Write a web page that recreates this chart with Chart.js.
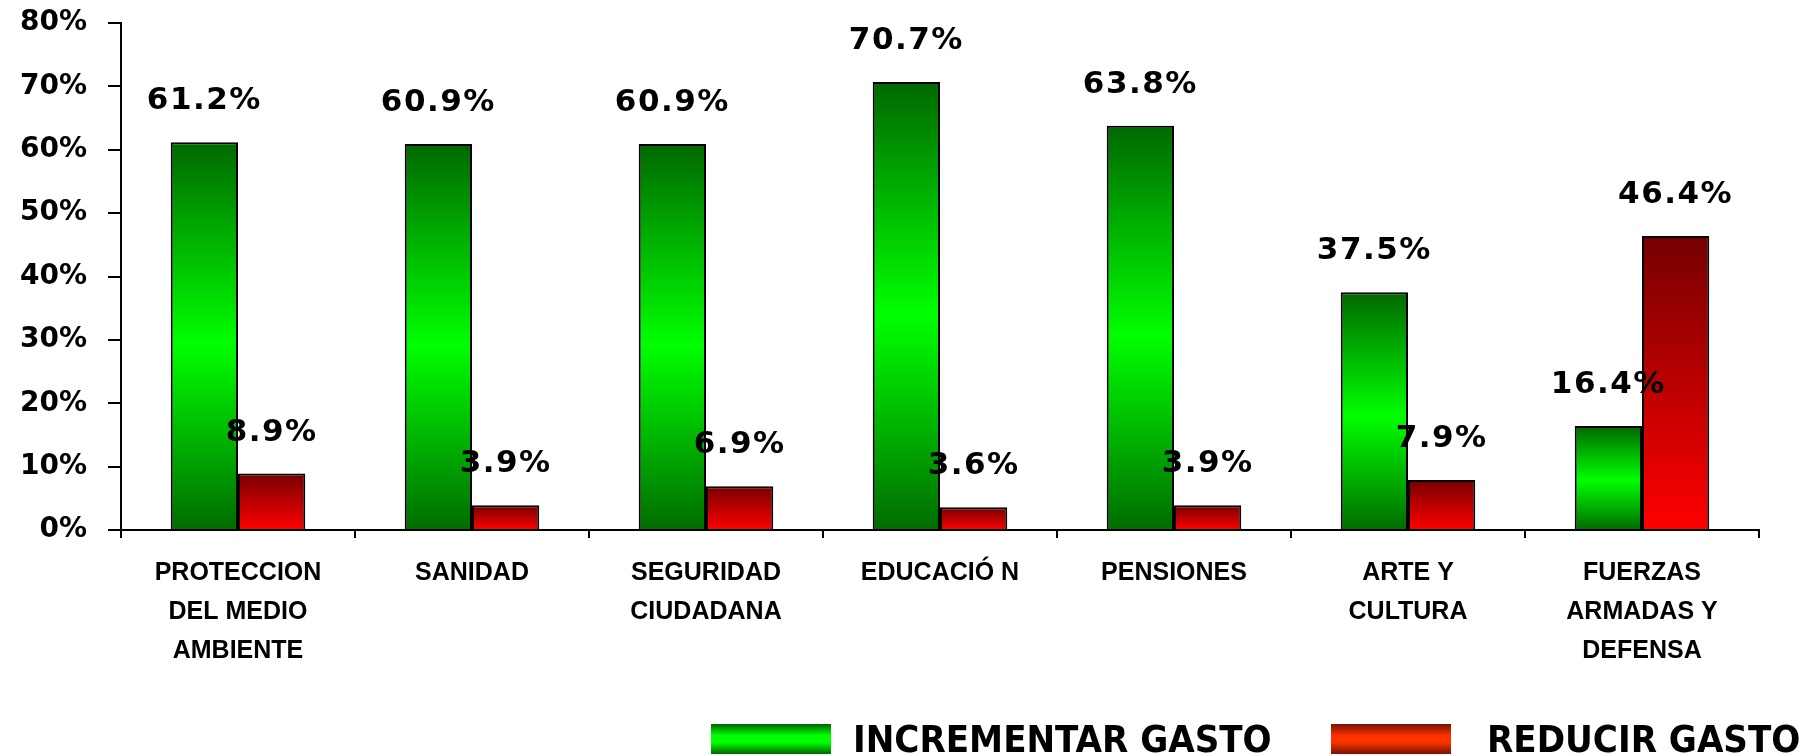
<!DOCTYPE html>
<html>
<head>
<meta charset="utf-8">
<style>
html,body{margin:0;padding:0;background:#ffffff;}
canvas{display:block;}
</style>
<script src="https://cdn.jsdelivr.net/npm/chart.js@4.4.0/dist/chart.umd.min.js"></script>
</head>
<body>
<canvas id="c" width="1819" height="756"></canvas>
<script>
// ---- data ----
const categories = [
  ["PROTECCION", "DEL MEDIO", "AMBIENTE"],
  "SANIDAD",
  ["SEGURIDAD", "CIUDADANA"],
  "EDUCACIÓ N",
  "PENSIONES",
  ["ARTE Y", "CULTURA"],
  ["FUERZAS", "ARMADAS Y", "DEFENSA"]
];
const incrementarGasto = [61.2, 60.9, 60.9, 70.7, 63.8, 37.5, 16.4];
const reducirGasto = [8.9, 3.9, 6.9, 3.6, 3.9, 7.9, 46.4];
const seriesNames = ["INCREMENTAR GASTO", "REDUCIR GASTO"];
const yTickValues = [0, 10, 20, 30, 40, 50, 60, 70, 80];

// ---- styles ----
const greenBarStops = [[0, '#006800'], [0.52, '#00ff00'], [1, '#006c00']];
const redBarStops = [[0, '#760000'], [1, '#ff0000']];
const greenLegendStops = [[0, '#006400'], [0.38, '#00ff00'], [0.62, '#00ff00'], [1, '#006400']];
const redLegendStops = [[0, '#761400'], [0.4, '#ff3300'], [0.6, '#ff3300'], [1, '#761400']];

function barGradient(stops, fallback) {
  return function (ctx) {
    const chart = ctx.chart;
    const ys = chart.scales && chart.scales.y;
    if (ctx.type !== 'data' || !ys || !chart.chartArea) return fallback;
    const top = ys.getPixelForValue(ctx.raw);
    const bot = ys.getPixelForValue(0);
    if (!isFinite(top) || !isFinite(bot) || top === bot) return fallback;
    const g = chart.ctx.createLinearGradient(0, top, 0, bot);
    stops.forEach(([o, c]) => g.addColorStop(o, c));
    return g;
  };
}

const dataLabels = {
  id: 'dataLabels',
  afterDatasetsDraw(chart) {
    const ctx = chart.ctx;
    ctx.save();
    ctx.font = 'bold 31px "DejaVu Sans", Verdana, sans-serif';
    if ('letterSpacing' in ctx) ctx.letterSpacing = '1.5px';
    ctx.fillStyle = '#000';
    ctx.textAlign = 'center';
    ctx.textBaseline = 'alphabetic';
    chart.data.datasets.forEach((ds, di) => {
      const meta = chart.getDatasetMeta(di);
      meta.data.forEach((el, i) => {
        ctx.fillText(ds.data[i].toFixed(1) + '%', el.x, el.y - 33);
      });
    });
    ctx.restore();
  }
};

const legendLayout = [
  { box: 711, text: 853, stops: greenLegendStops },
  { box: 1331, text: 1487, stops: redLegendStops }
];
const customLegend = {
  id: 'customLegend',
  afterDraw(chart) {
    const ctx = chart.ctx;
    ctx.save();
    chart.data.datasets.forEach((ds, i) => {
      const L = legendLayout[i];
      const y0 = 724, h = 30, w = 120;
      const g = ctx.createLinearGradient(0, y0, 0, y0 + h);
      L.stops.forEach(([o, c]) => g.addColorStop(o, c));
      ctx.fillStyle = g;
      ctx.fillRect(L.box, y0, w, h);
      ctx.fillStyle = '#000';
      ctx.font = 'bold 38px "DejaVu Sans Condensed", "Liberation Sans Narrow", sans-serif';
      ctx.textAlign = 'left';
      ctx.textBaseline = 'alphabetic';
      ctx.fillText(ds.label, L.text, 752);
    });
    ctx.restore();
  }
};

new Chart(document.getElementById('c'), {
  type: 'bar',
  data: {
    labels: categories,
    datasets: [
      {
        label: seriesNames[0],
        data: incrementarGasto,
        backgroundColor: barGradient(greenBarStops, '#00c000'),
        borderColor: '#000',
        borderWidth: 2,
        categoryPercentage: 0.575,
        barPercentage: 1.0
      },
      {
        label: seriesNames[1],
        data: reducirGasto,
        backgroundColor: barGradient(redBarStops, '#c00000'),
        borderColor: '#000',
        borderWidth: 2,
        categoryPercentage: 0.575,
        barPercentage: 1.0
      }
    ]
  },
  options: {
    responsive: false,
    animation: false,
    layout: { padding: { left: 0, right: 60, top: 23, bottom: 0 } },
    plugins: {
      legend: { display: false },
      tooltip: { enabled: false }
    },
    scales: {
      x: {
        afterFit: s => { s.height = 226; },
        grid: {
          display: true,
          drawOnChartArea: false,
          drawTicks: true,
          tickLength: 8,
          color: '#000',
          lineWidth: 2,
          offset: true
        },
        border: { display: true, color: '#000', width: 2 },
        ticks: {
          color: '#000',
          padding: 16,
          maxRotation: 0,
          autoSkip: false,
          font: { family: '"Liberation Sans", Arial, sans-serif', weight: 'bold', size: 25, lineHeight: 1.56 }
        }
      },
      y: {
        min: 0,
        max: 80,
        afterFit: s => { s.width = 121; s.paddingTop = 0; s.paddingBottom = 0; },
        afterBuildTicks: s => { s.ticks = yTickValues.map(v => ({ value: v })); },
        grid: {
          display: true,
          drawOnChartArea: false,
          drawTicks: true,
          tickLength: 13,
          color: '#000',
          lineWidth: 2
        },
        border: { display: true, color: '#000', width: 2 },
        ticks: {
          color: '#000',
          padding: 21,
          callback: v => v + '%',
          font: { family: '"DejaVu Sans", Verdana, sans-serif', weight: 'bold', size: 28 }
        }
      }
    }
  },
  plugins: [dataLabels, customLegend]
});
</script>
</body>
</html>
